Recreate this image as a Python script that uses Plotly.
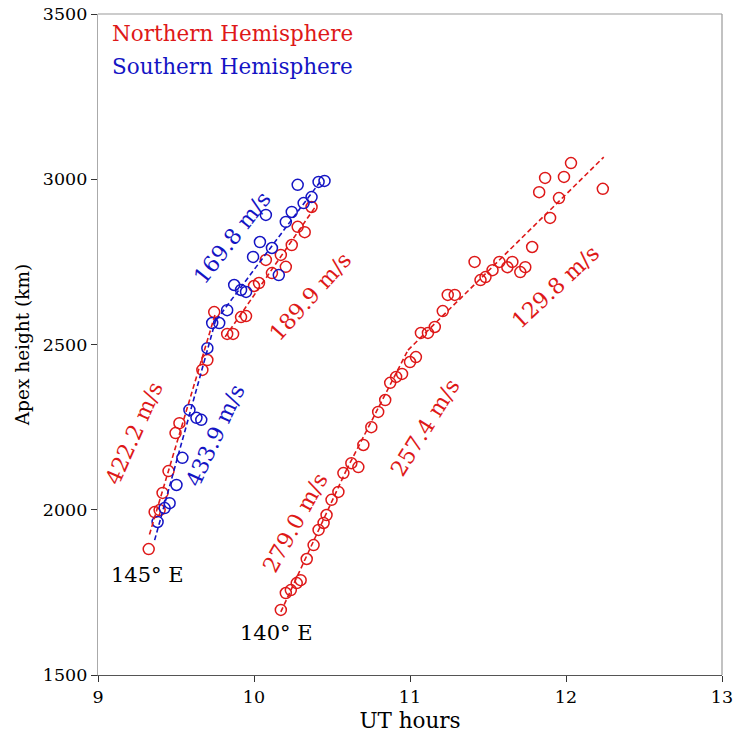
import plotly.graph_objects as go

RED = "rgb(222,24,24)"
BLUE = "rgb(20,20,196)"

# 145° E, Northern Hemisphere (red)
n145_ut = [9.325, 9.363, 9.395, 9.414, 9.452, 9.497, 9.522, 9.669, 9.701, 9.745,
           9.828, 9.866, 9.917, 9.949, 10.0, 10.032, 10.076, 10.115, 10.172, 10.204,
           10.242, 10.28, 10.325, 10.369]
n145_h = [1881, 1993, 1999, 2051, 2117, 2232, 2262, 2423, 2453, 2598,
          2532, 2532, 2583, 2586, 2677, 2686, 2756, 2716, 2771, 2735,
          2801, 2856, 2840, 2916]

# 145° E, Southern Hemisphere (blue)
s145_ut = [9.382, 9.427, 9.459, 9.503, 9.541, 9.586, 9.631, 9.662, 9.701, 9.732,
           9.777, 9.828, 9.873, 9.917, 9.949, 9.994, 10.038, 10.076, 10.115, 10.159,
           10.204, 10.242, 10.28, 10.318, 10.369, 10.414, 10.452]
s145_h = [1963, 2005, 2020, 2075, 2157, 2302, 2278, 2272, 2489, 2565,
          2565, 2604, 2680, 2665, 2659, 2765, 2810, 2892, 2792, 2710,
          2871, 2901, 2983, 2928, 2946, 2992, 2995]

# 140° E, Northern Hemisphere (red)
n140_ut = [10.172, 10.204, 10.236, 10.274, 10.299, 10.338, 10.382, 10.414, 10.446, 10.465,
           10.497, 10.541, 10.573, 10.624, 10.669, 10.701, 10.752, 10.796, 10.841, 10.873,
           10.911, 10.949, 11.0, 11.038, 11.07, 11.115, 11.159, 11.21, 11.242, 11.287,
           11.414, 11.452, 11.484, 11.529, 11.573, 11.624, 11.656, 11.707, 11.739, 11.783,
           11.828, 11.866, 11.898, 11.955, 11.987, 12.032, 12.236]
n140_h = [1697, 1748, 1757, 1778, 1787, 1851, 1893, 1939, 1960, 1984,
          2030, 2054, 2111, 2141, 2129, 2196, 2250, 2296, 2332, 2384,
          2402, 2411, 2447, 2462, 2535, 2535, 2553, 2601, 2650, 2650,
          2750, 2695, 2704, 2725, 2750, 2734, 2750, 2719, 2734, 2795,
          2961, 3004, 2883, 2943, 3007, 3049, 2971]

# Linear fit segments (start/end UT and height) with their speed labels
fit_labels = ["422.2 m/s", "189.9 m/s", "433.9 m/s", "169.8 m/s",
              "279.0 m/s", "257.4 m/s", "129.8 m/s"]
fit_colors = [RED, RED, BLUE, BLUE, RED, RED, RED]
fit_x0 = [9.33, 9.815, 9.363, 9.758, 10.172, 10.592, 10.987]
fit_x1 = [9.75, 10.395, 9.758, 10.433, 10.592, 10.987, 12.242]
fit_y0 = [1925, 2523, 1908, 2574, 1691, 2120, 2483]
fit_y1 = [2590, 2918, 2580, 2998, 2120, 2483, 3067]
# label positions (data coords) and rotation
lab_x = [9.229, 10.363, 9.75, 9.86, 10.267, 11.096, 11.936]
lab_y = [2232, 2644, 2226, 2825, 1960, 2250, 2674]
lab_ang = [-66, -48, -65, -52, -61, -58, -43]

site_labels = ["145° E", "140° E"]
site_x = [9.318, 10.146]
site_y = [1803, 1627]

FONT = "DejaVu Serif"

fig = go.Figure()

for xs, ys, col in [(n145_ut, n145_h, RED), (s145_ut, s145_h, BLUE), (n140_ut, n140_h, RED)]:
    fig.add_trace(go.Scatter(
        x=xs, y=ys, mode="markers",
        marker=dict(symbol="circle-open", size=11, color=col, line=dict(width=1.5, color=col)),
        showlegend=False, hoverinfo="x+y"))

for i in range(len(fit_labels)):
    fig.add_trace(go.Scatter(
        x=[fit_x0[i], fit_x1[i]], y=[fit_y0[i], fit_y1[i]], mode="lines",
        line=dict(color=fit_colors[i], width=1.6, dash="5px,3px"),
        showlegend=False, hoverinfo="skip"))
    fig.add_annotation(x=lab_x[i], y=lab_y[i], text=fit_labels[i], showarrow=False,
                       textangle=lab_ang[i], font=dict(family=FONT, size=22, color=fit_colors[i]))

for i in range(len(site_labels)):
    fig.add_annotation(x=site_x[i], y=site_y[i], text=site_labels[i], showarrow=False,
                       font=dict(family=FONT, size=21, color="black"))

fig.add_annotation(xref="paper", yref="paper", x=0.019, y=0.971, xanchor="left", yanchor="middle",
                   text="Northern Hemisphere", showarrow=False,
                   font=dict(family=FONT, size=21.5, color=RED))
fig.add_annotation(xref="paper", yref="paper", x=0.019, y=0.921, xanchor="left", yanchor="middle",
                   text="Southern Hemisphere", showarrow=False,
                   font=dict(family=FONT, size=21.5, color=BLUE))

fig.update_layout(
    width=734, height=738,
    margin=dict(l=98, r=12, t=14, b=63),
    paper_bgcolor="white", plot_bgcolor="white",
    font=dict(family=FONT, size=17.5, color="black"),
    xaxis=dict(range=[9, 13], tickvals=[9, 10, 11, 12, 13], showgrid=False, zeroline=False,
               showline=True, linecolor="#555", linewidth=1.2, mirror=False,
               ticks="outside", ticklen=6, tickcolor="#333", automargin=False,
               ticklabeloverflow="allow",
               title=dict(text="UT hours", font=dict(size=21.5), standoff=6)),
    yaxis=dict(range=[1500, 3500], tickvals=[1500, 2000, 2500, 3000, 3500], showgrid=False,
               zeroline=False, showline=True, linecolor="#aaa", linewidth=1.2,
               ticks="outside", ticklen=6, tickcolor="#333", automargin=False,
               ticklabeloverflow="allow",
               title=dict(text="Apex height (km)", font=dict(size=18.5), standoff=8)),
    shapes=[dict(type="line", xref="paper", yref="paper", x0=0, x1=1, y0=1, y1=1,
                 line=dict(color="#999", width=1.2)),
            dict(type="line", xref="paper", yref="paper", x0=1, x1=1, y0=0, y1=1,
                 line=dict(color="#999", width=1.2))],
)

fig.write_html("out.html", config={"displayModeBar": False},
               post_script="document.body.style.margin='0';")
